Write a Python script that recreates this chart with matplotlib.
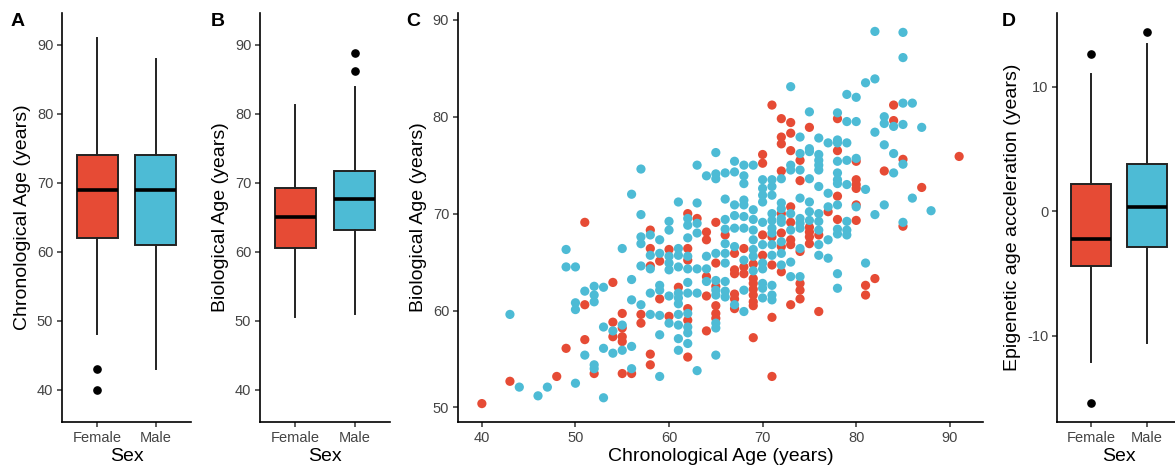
import matplotlib
matplotlib.use("Agg")
import matplotlib.pyplot as plt

plt.rcParams["font.family"] = ["Liberation Sans", "DejaVu Sans"]
plt.rcParams["axes.unicode_minus"] = False

# colours (npg palette)
RED = "#E64B35"
BLUE = "#4DBBD5"

sexes = ["Female", "Male"]

# box summaries: [lower whisker, q1, median, q3, upper whisker]
chrono_summary = [[48, 62, 69, 74, 91], [43, 61, 69, 74, 88]]
chrono_outliers = [[43, 40], []]
bio_summary = [[50.5, 60.6, 65.0, 69.2, 81.3], [51.0, 63.1, 67.6, 71.7, 83.9]]
bio_outliers = [[], [86.2, 88.8]]
accel_summary = [[-12.1, -4.4, -2.2, 2.2, 11.0], [-10.6, -2.9, 0.35, 3.8, 13.4]]
accel_outliers = [[12.6, -15.4], [14.4]]

# scatter, female: chronological age -> list of biological ages
female_points = {
    40: [50.4], 43: [52.7], 48: [53.2], 49: [56.1], 51: [69.1, 60.6, 57.0],
    52: [53.5], 54: [62.9, 58.8, 57.3], 55: [59.7, 58.2, 57.3, 56.8, 53.5],
    56: [53.5], 57: [59.6, 58.7], 58: [68.3, 66.4, 64.6, 55.5, 54.4],
    59: [65.1, 61.2], 60: [66.3, 59.4], 61: [62.4],
    62: [70.0, 66.4, 65.2, 60.2, 59.0, 55.2], 63: [69.5],
    64: [68.1, 67.3, 63.5, 61.5, 57.9], 65: [69.1, 64.9, 62.5, 60.5, 59.7, 59.2],
    66: [67.8], 67: [65.9, 64.2, 63.8, 61.7, 61.2, 60.2], 68: [66.4, 64.5, 63.8],
    69: [64.8, 63.3, 62.8, 62.2, 61.6, 60.9, 60.5, 57.2],
    70: [76.1, 75.2, 67.8, 65.7], 71: [81.2, 67.6, 64.7, 59.3, 53.2],
    72: [79.8, 77.9, 77.2, 74.4, 70.0, 68.0, 66.6, 64.0],
    73: [79.4, 78.3, 76.5, 70.7, 69.1, 67.3, 66.8, 60.6],
    74: [75.5, 73.4, 66.1, 62.8, 62.1, 61.2], 75: [78.9, 68.6, 68.1, 67.6, 66.9],
    76: [67.8, 59.9], 77: [70.2], 78: [79.8, 76.5, 71.8, 69.4],
    80: [75.4, 73.5, 73.0, 72.6, 70.9, 69.3], 81: [62.6, 61.6], 82: [63.3],
    83: [74.4], 84: [81.2, 79.6], 85: [75.6, 68.7], 87: [72.7], 91: [75.9],
}

# scatter, male
male_points = {
    43: [59.6], 44: [52.1], 46: [51.2], 47: [52.1], 49: [66.3, 64.5],
    50: [64.5, 60.8, 60.1, 52.5], 51: [62.0, 55.4], 52: [62.5, 61.6, 60.9, 54.4, 54.0],
    53: [62.4, 58.3, 56.1, 51.0], 54: [57.9, 55.6], 55: [66.4, 58.5, 55.9],
    56: [72.0, 63.2, 61.1, 56.3, 54.0], 57: [74.6, 69.9, 67.6, 66.9, 64.6, 60.6],
    58: [67.8, 65.7, 64.3, 61.8, 59.6], 59: [67.3, 65.9, 62.6, 62.1, 59.5, 57.5, 53.2],
    60: [69.2, 68.3, 65.6, 64.9, 64.2, 61.5, 58.7],
    61: [71.2, 66.4, 65.7, 64.5, 61.8, 61.3, 60.7, 59.6, 58.5, 57.1, 55.9],
    62: [69.5, 68.8, 67.5, 65.6, 64.3, 62.9, 61.8, 59.7, 58.3, 57.7, 56.6],
    63: [75.0, 71.1, 69.0, 68.0, 64.3, 61.8, 53.8], 64: [73.9, 65.6, 64.3, 63.0],
    65: [76.3, 74.1, 73.6, 65.9, 63.1, 62.1, 61.6, 58.7, 58.2, 55.4],
    66: [74.2, 71.5, 69.4, 68.4, 66.9, 65.9, 64.9, 63.0, 62.0, 61.4],
    67: [75.4, 74.3, 70.9, 69.8, 68.5, 66.6, 60.6],
    68: [75.0, 73.9, 73.1, 71.4, 70.9, 69.7, 68.5, 65.2, 62.1, 59.9],
    69: [75.0, 70.4, 69.4, 68.3, 67.3, 66.3, 65.6, 64.1],
    70: [73.5, 72.6, 71.9, 71.2, 69.1, 66.8, 64.9, 64.3, 62.8, 62.3, 61.3],
    71: [73.5, 72.8, 71.9, 70.0, 69.3, 68.5, 68.0, 66.8, 65.7, 62.6, 61.6, 61.1],
    72: [73.6, 71.1, 70.5, 69.5, 69.1, 67.1, 65.9, 64.7],
    73: [83.1, 75.0, 74.5, 70.0, 68.3, 65.0, 63.5],
    74: [77.9, 76.2, 74.5, 71.6, 69.5, 69.0, 68.5, 66.4, 63.5],
    75: [80.5, 76.7, 76.4, 73.6, 71.2, 70.2, 69.3],
    76: [77.8, 76.1, 75.5, 75.0, 74.5, 72.8, 70.0, 69.2, 68.3, 66.8, 65.7],
    77: [77.3, 72.1, 70.7, 67.3, 65.4],
    78: [80.4, 77.6, 77.3, 75.4, 74.2, 73.5, 73.1, 70.9, 68.4, 67.9, 63.8, 62.3],
    79: [82.3, 79.5, 77.3, 75.5, 73.0, 69.2, 68.3, 67.8], 80: [82.0, 79.5, 75.7, 70.7],
    81: [83.5, 72.5, 64.9], 82: [88.8, 83.9, 78.4, 69.9], 83: [80.0, 79.3, 77.1, 70.9],
    84: [79.0, 76.2, 74.2], 85: [88.7, 86.1, 81.4, 79.2, 75.1, 69.1],
    86: [81.4, 71.6], 87: [78.9], 88: [70.3],
}

W, H = 1175, 472
fig = plt.figure(figsize=(W / 100, H / 100), dpi=100)


def add_panel(left, right, top=13, bottom=422):
    ax = fig.add_axes([left / W, (H - bottom) / H, (right - left) / W, (bottom - top) / H])
    for side in ("top", "right"):
        ax.spines[side].set_visible(False)
    for side in ("left", "bottom"):
        ax.spines[side].set_linewidth(1.2)
        ax.spines[side].set_color("black")
    ax.tick_params(direction="out", length=3.8, width=1.1, color="#333333",
                   labelcolor="#444444", labelsize=10.5, pad=2.5)
    return ax


def draw_box(ax, summary, outliers):
    stats = []
    for s, out, name in zip(summary, outliers, sexes):
        stats.append(dict(whislo=s[0], q1=s[1], med=s[2], q3=s[3], whishi=s[4],
                          fliers=out, label=name))
    parts = ax.bxp(stats, positions=[1, 2], widths=0.7, patch_artist=True,
                   showcaps=False,
                   boxprops=dict(edgecolor="#222222", linewidth=1.4),
                   whiskerprops=dict(color="#222222", linewidth=1.4),
                   medianprops=dict(color="black", linewidth=2.6),
                   flierprops=dict(marker="o", markerfacecolor="black",
                                   markeredgecolor="black", markersize=5.2))
    for patch, colour in zip(parts["boxes"], [RED, BLUE]):
        patch.set_facecolor(colour)
    ax.set_xlim(0.4, 2.6)
    ax.set_xlabel("Sex", fontsize=14, labelpad=2)


# A: chronological age
ax_a = add_panel(62, 191)
draw_box(ax_a, chrono_summary, chrono_outliers)
ax_a.set_ylim(35.3, 94.6)
ax_a.set_yticks([40, 50, 60, 70, 80, 90])
ax_a.set_ylabel("Chronological Age (years)", fontsize=14, labelpad=4)

# B: biological age
ax_b = add_panel(260, 390)
draw_box(ax_b, bio_summary, bio_outliers)
ax_b.set_ylim(35.3, 94.6)
ax_b.set_yticks([40, 50, 60, 70, 80, 90])
ax_b.set_ylabel("Biological Age (years)", fontsize=14, labelpad=4)

# C: scatter
ax_c = add_panel(458, 983)
for points, colour in [(female_points, RED), (male_points, BLUE)]:
    xs = [age for age, bios in points.items() for _ in bios]
    ys = [b for bios in points.values() for b in bios]
    ax_c.scatter(xs, ys, s=44, color=colour, edgecolors="none", zorder=3)
ax_c.set_xlim(37.45, 93.55)
ax_c.set_ylim(48.5, 90.7)
ax_c.set_xticks([40, 50, 60, 70, 80, 90])
ax_c.set_yticks([50, 60, 70, 80, 90])
ax_c.set_xlabel("Chronological Age (years)", fontsize=14, labelpad=2)
ax_c.set_ylabel("Biological Age (years)", fontsize=14, labelpad=4)

# D: epigenetic age acceleration (panel runs off the right edge)
ax_d = add_panel(1057, 1181)
draw_box(ax_d, accel_summary, accel_outliers)
ax_d.set_ylim(-16.9, 15.9)
ax_d.set_yticks([-10, 0, 10])
ax_d.set_ylabel("Epigenetic age acceleration (years)", fontsize=14, labelpad=4)

for letter, x in [("A", 11), ("B", 211), ("C", 406), ("D", 1002)]:
    fig.text(x / W, 1 - 22 / H, letter, fontsize=14, fontweight="bold", va="center")

fig.savefig("out.png", dpi=100)
